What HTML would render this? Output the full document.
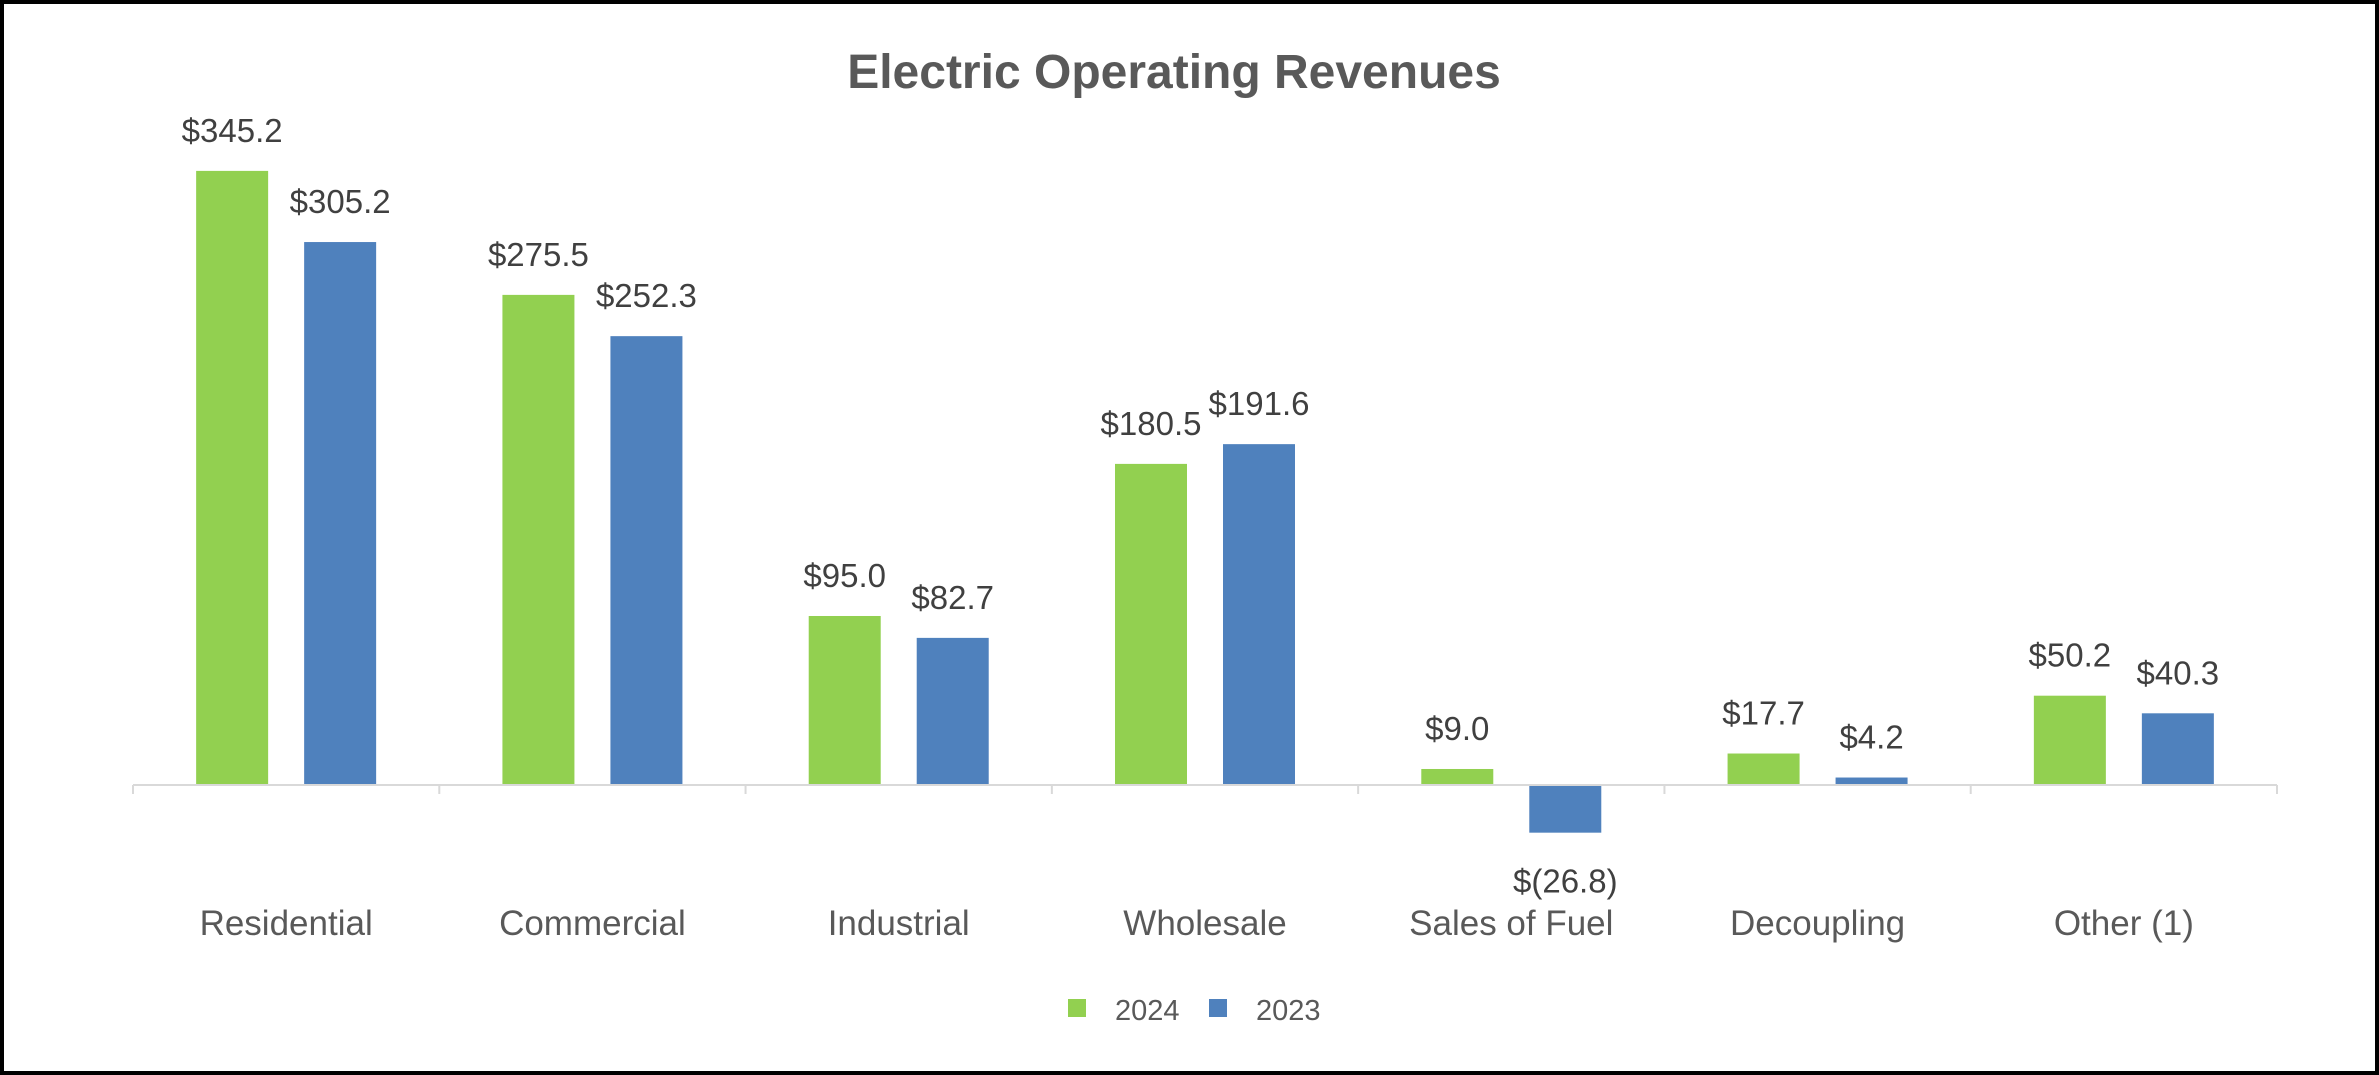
<!DOCTYPE html>
<html><head><meta charset="utf-8"><style>
html,body{margin:0;padding:0;background:#fff}
#wrap{position:relative;width:2379px;height:1075px;box-sizing:border-box;border:4px solid #000;background:#fff;overflow:hidden}
svg{position:absolute;left:-4px;top:-4px}
text{font-family:"Liberation Sans",sans-serif}
</style></head><body>
<div id="wrap">
<svg id="chart" width="2379" height="1075">
<text x="1174" y="88" text-anchor="middle" font-size="48" font-weight="bold" fill="#595959">Electric Operating Revenues</text>
</svg>
</div>
<script>
const categories=["Residential","Commercial","Industrial","Wholesale","Sales of Fuel","Decoupling","Other (1)"];
const series2024=[345.2,275.5,95.0,180.5,9.0,17.7,50.2];
const series2023=[305.2,252.3,82.7,191.6,-26.8,4.2,40.3];
const seriesNames=["2024","2023"];
const colors=["#92d050","#4f81bd"];
const NS="http://www.w3.org/2000/svg";
const svg=document.getElementById('chart');
const x0=133,x1=2277,axisY=785,pxPerUnit=1.779;
const catW=(x1-x0)/categories.length;
function xCenter(i){return x0+catW*(i+0.5);}
function yScale(v){return axisY-v*pxPerUnit;}
function mk(tag,attrs){const e=document.createElementNS(NS,tag);for(const k in attrs)e.setAttribute(k,attrs[k]);svg.appendChild(e);return e;}
function fmt(v){return v<0?"$("+Math.abs(v).toFixed(1)+")":"$"+v.toFixed(1);}
const bw=72,off=54;
[series2024,series2023].forEach((s,si)=>{
  s.forEach((v,i)=>{
    const cx=xCenter(i)+(si===0?-off:off);
    const y=yScale(Math.max(v,0)),h=Math.abs(yScale(v)-axisY);
    const r=mk('rect',{x:cx-bw/2,y:y,width:bw,height:h,fill:colors[si]});
    
    
    const ly=v>=0?yScale(v)-29:yScale(v)+60;
    const t=mk('text',{x:cx,y:ly,'text-anchor':'middle','font-size':33,fill:'#404040'});
    t.textContent=fmt(v);
    
    
  });
});
const ax=mk('line',{x1:x0,y1:axisY,x2:x1,y2:axisY,stroke:'#d9d9d9','stroke-width':2});


for(let i=0;i<=categories.length;i++){
  const tx=x0+catW*i;
  const tk=mk('line',{x1:tx,y1:axisY,x2:tx,y2:axisY+9,stroke:'#d9d9d9','stroke-width':2});
  
  
}
categories.forEach((c,i)=>{
  const t=mk('text',{x:xCenter(i),y:935,'text-anchor':'middle','font-size':35,fill:'#595959'});
  t.textContent=c;
  
  
});
const legX=[1068,1209];
seriesNames.forEach((n,i)=>{
  const r=mk('rect',{x:legX[i],y:999,width:18,height:18,fill:colors[i]});
  
  
  const t=mk('text',{x:legX[i]+47,y:1020,'font-size':29,fill:'#595959'});
  t.textContent=n;
  
  
});
</script>
</body></html>
